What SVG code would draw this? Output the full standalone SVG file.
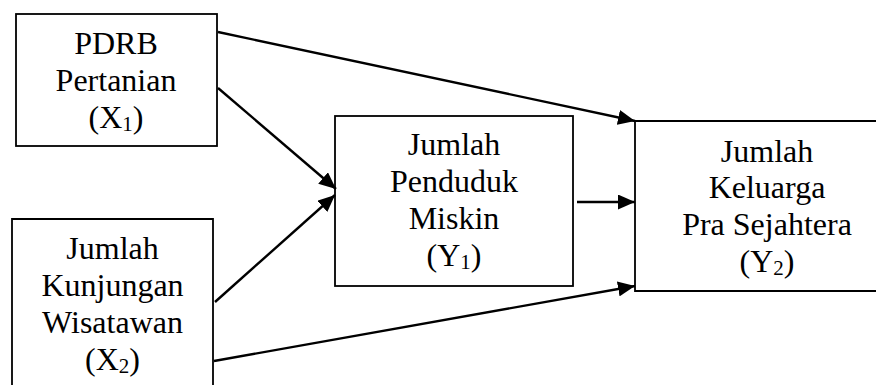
<svg xmlns="http://www.w3.org/2000/svg" width="876" height="385" viewBox="0 0 876 385">
<defs>
<style>
.box{fill:#fff;stroke:#000;stroke-width:1.8}
.lbl{font-family:"Liberation Serif","Tinos","DejaVu Serif",serif;font-size:32px;fill:#000;text-anchor:middle}
.sub{font-size:21px}
.edge{stroke:#000;stroke-width:2.4;fill:none;marker-end:url(#ah)}
</style>
<marker id="ah" markerWidth="17" markerHeight="15" refX="17" refY="7.5" orient="auto" markerUnits="userSpaceOnUse">
<path d="M0,0 L17,7.5 L0,15 Z" fill="#000"/>
</marker>
</defs>
<rect width="876" height="385" fill="#fff"/>
<g id="x1">
<rect class="box" x="16" y="14" width="201" height="132"/>
<text class="lbl" x="116" y="54">PDRB</text>
<text class="lbl" x="116" y="91">Pertanian</text>
<text class="lbl" x="116" y="128">(X<tspan class="sub" dy="3">1</tspan><tspan dy="-3">)</tspan></text>
</g>
<g id="x2">
<path class="box" d="M12,386 L12,219 L213,219 L213,386"/>
<text class="lbl" x="112.5" y="259">Jumlah</text>
<text class="lbl" x="112.5" y="296">Kunjungan</text>
<text class="lbl" x="112.5" y="333">Wisatawan</text>
<text class="lbl" x="112.5" y="370">(X<tspan class="sub" dy="3">2</tspan><tspan dy="-3">)</tspan></text>
</g>
<g id="y1">
<rect class="box" x="335" y="116" width="238" height="170"/>
<text class="lbl" x="454" y="155">Jumlah</text>
<text class="lbl" x="454" y="192">Penduduk</text>
<text class="lbl" x="454" y="229">Miskin</text>
<text class="lbl" x="454" y="266">(Y<tspan class="sub" dy="3">1</tspan><tspan dy="-3">)</tspan></text>
</g>
<g id="y2">
<path class="box" d="M878,121 L635,121 L635,291 L878,291"/>
<text class="lbl" x="767" y="162">Jumlah</text>
<text class="lbl" x="767" y="198">Keluarga</text>
<text class="lbl" x="767" y="235">Pra Sejahtera</text>
<text class="lbl" x="767" y="272">(Y<tspan class="sub" dy="3">2</tspan><tspan dy="-3">)</tspan></text>
</g>
<g id="connectors">
<line class="edge" x1="218" y1="32" x2="635" y2="121"/>
<line class="edge" x1="218" y1="88" x2="336" y2="189"/>
<line class="edge" x1="215" y1="302" x2="335" y2="195"/>
<line class="edge" x1="214" y1="361" x2="635" y2="286"/>
<line class="edge" x1="577" y1="202" x2="635" y2="202"/>
</g>
</svg>
